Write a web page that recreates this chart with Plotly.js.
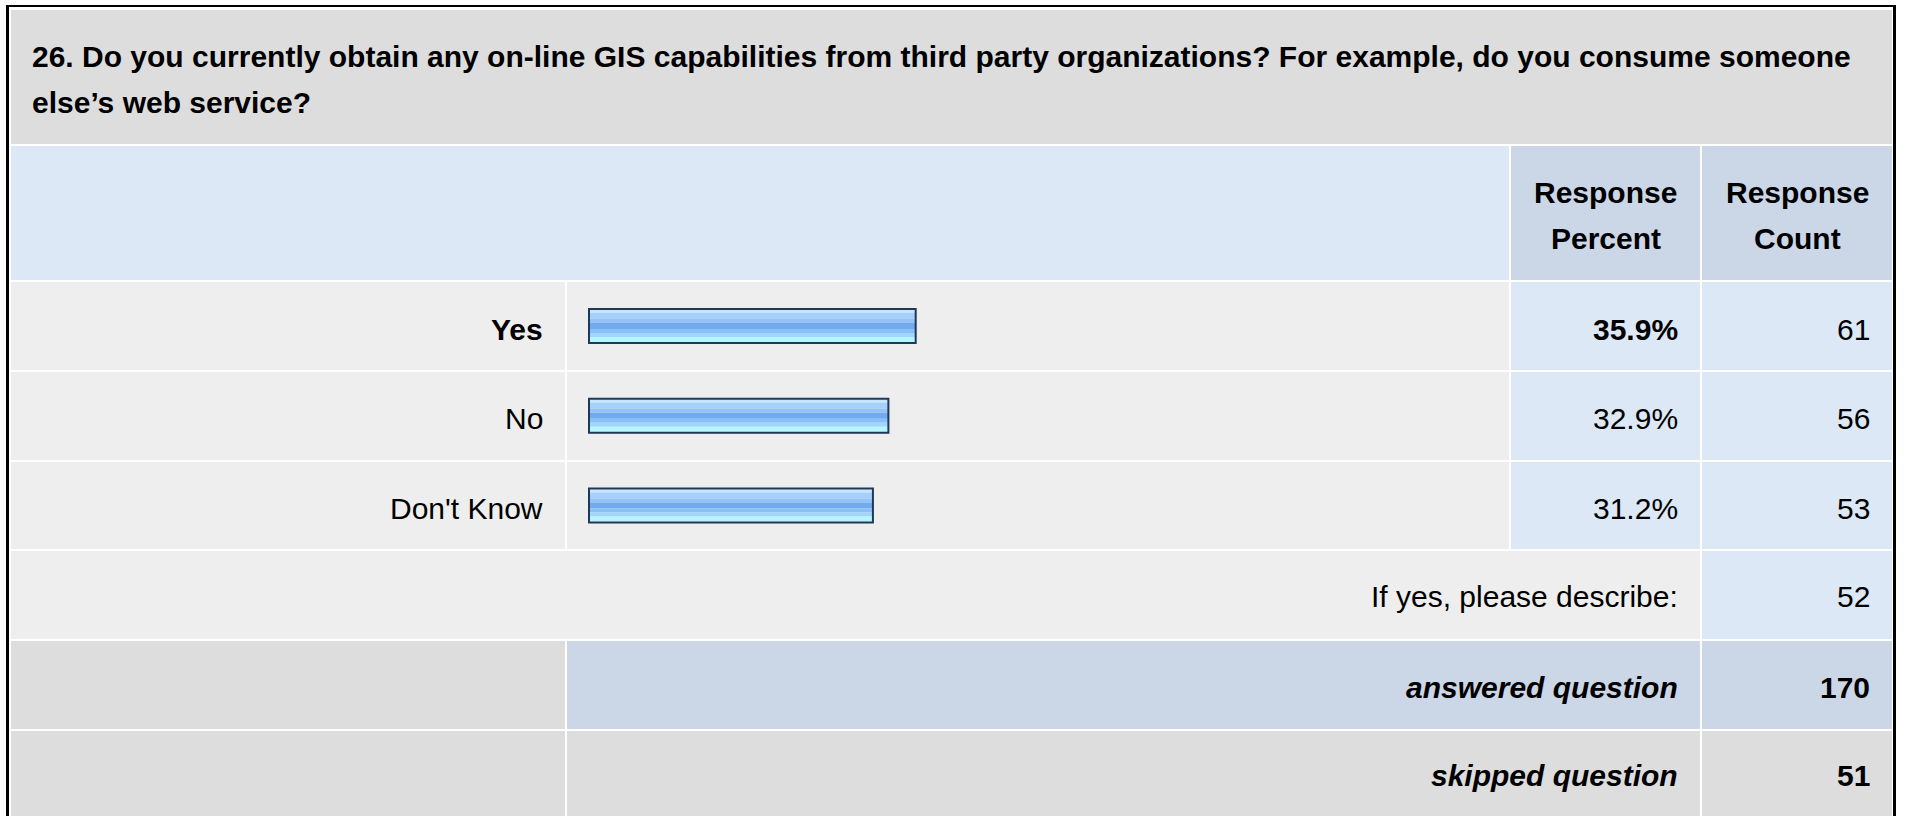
<!DOCTYPE html>
<html>
<head>
<meta charset="utf-8">
<script src="https://cdn.plot.ly/plotly-3.0.1.min.js"></script>
<style>
html,body{margin:0;padding:0;background:#ffffff;overflow:hidden}
#chart{width:1907px;height:816px}
</style>
</head>
<body>
<div id="chart"></div>
<script>
// ---------------- data ----------------
const questionLines = [
  "26. Do you currently obtain any on-line GIS capabilities from third party organizations? For example, do you consume someone",
  "else\u2019s web service?"
];
const percentHeader = ["Response", "Percent"];
const countHeader = ["Response", "Count"];
const categories = ["Yes", "No", "Don't Know"];
const percents = [35.9, 32.9, 31.2];
const counts = [61, 56, 53];
const otherLabel = "If yes, please describe:";
const otherCount = 52;
const summaryLabels = ["answered question", "skipped question"];
const summaryCounts = [170, 51];

// ---------------- layout geometry (pixels) ----------------
const W = 1907, H = 816;
const FONT = "Liberation Sans, Arial, Helvetica, sans-serif";
const FS = 30;
const px = x => x / W;
const py = y => 1 - y / H;

const colLabel = [11, 565], colBar = [567, 1509], colPct = [1511, 1700], colCnt = [1702, 1892];
const rowTops = [282, 372, 462, 551, 641, 731];
const rowBots = [370, 460, 549, 639, 729, 830];
const baselines = [339.5, 429, 518.5, 607, 697.5, 786];

const C_HEAD = "#dddddd", C_ROW = "#eeeeee", C_LBLUE = "#dce8f6", C_BGRAY = "#cbd7e6";

function rect(x0, x1, y0, y1, color) {
  return {type: "rect", xref: "paper", yref: "paper", x0: px(x0), x1: px(x1), y0: py(y1), y1: py(y0),
          fillcolor: color, line: {width: 0}, layer: "below"};
}
function ann(text, x, baseline, anchor, opts) {
  const size = (opts && opts.size) || FS;
  return {xref: "paper", yref: "paper", x: px(x), y: py(baseline - 0.3465 * size),
          xanchor: anchor, yanchor: "middle", text: text, showarrow: false, borderpad: 0,
          font: {family: FONT, size: size, color: "#000000"}};
}

const shapes = [];
// outer frame
shapes.push(rect(6, 1896, 5, 840, "#000000"));
shapes.push(rect(9, 1893, 7, 840, "#ffffff"));
// question header
shapes.push(rect(11, 1892, 10, 144, C_HEAD));
// column header row
shapes.push(rect(colLabel[0], colBar[1], 146, 280, C_LBLUE));
shapes.push(rect(colPct[0], colPct[1], 146, 280, C_BGRAY));
shapes.push(rect(colCnt[0], colCnt[1], 146, 280, C_BGRAY));
// answer rows
categories.forEach((c, i) => {
  shapes.push(rect(colLabel[0], colLabel[1], rowTops[i], rowBots[i], C_ROW));
  shapes.push(rect(colBar[0], colBar[1], rowTops[i], rowBots[i], C_ROW));
  shapes.push(rect(colPct[0], colPct[1], rowTops[i], rowBots[i], C_LBLUE));
  shapes.push(rect(colCnt[0], colCnt[1], rowTops[i], rowBots[i], C_LBLUE));
});
// other row
const ro = categories.length;
shapes.push(rect(colLabel[0], colPct[1], rowTops[ro], rowBots[ro], C_ROW));
shapes.push(rect(colCnt[0], colCnt[1], rowTops[ro], rowBots[ro], C_LBLUE));
// summary rows
const sumColors = [C_BGRAY, C_HEAD];
summaryLabels.forEach((s, k) => {
  const r = ro + 1 + k;
  shapes.push(rect(colLabel[0], colLabel[1], rowTops[r], rowBots[r], C_HEAD));
  shapes.push(rect(colBar[0], colPct[1], rowTops[r], rowBots[r], sumColors[k]));
  shapes.push(rect(colCnt[0], colCnt[1], rowTops[r], rowBots[r], sumColors[k]));
});

// ---------------- annotations ----------------
const annotations = [];
annotations.push(ann("<b>" + questionLines[0] + "</b>", 31, 66.7, "left"));
annotations.push(ann("<b>" + questionLines[1] + "</b>", 31, 112.7, "left"));
const pctMid = (colPct[0] + colPct[1]) / 2, cntMid = (colCnt[0] + colCnt[1]) / 2;
annotations.push(ann("<b>" + percentHeader[0] + "</b>", pctMid, 203.3, "center"));
annotations.push(ann("<b>" + percentHeader[1] + "</b>", pctMid, 249, "center"));
annotations.push(ann("<b>" + countHeader[0] + "</b>", cntMid, 203.3, "center"));
annotations.push(ann("<b>" + countHeader[1] + "</b>", cntMid, 249, "center"));

const topIdx = percents.indexOf(Math.max(...percents));
const PAD = 21;
categories.forEach((c, i) => {
  const b = t => (i === topIdx ? "<b>" + t + "</b>" : t);
  annotations.push(ann(b(c), colLabel[1] - PAD, baselines[i], "right"));
  annotations.push(ann(b(percents[i].toFixed(1) + "%"), colPct[1] - PAD, baselines[i], "right"));
  annotations.push(ann(String(counts[i]), colCnt[1] - PAD, baselines[i], "right"));
});
annotations.push(ann(otherLabel, colPct[1] - PAD, baselines[ro], "right"));
annotations.push(ann(String(otherCount), colCnt[1] - PAD, baselines[ro], "right"));
summaryLabels.forEach((s, k) => {
  const r = ro + 1 + k;
  annotations.push(ann("<b><i>" + s + "</i></b>", colPct[1] - PAD, baselines[r], "right"));
  annotations.push(ann("<b>" + summaryCounts[k] + "</b>", colCnt[1] - PAD, baselines[r], "right"));
});

// ---------------- bars (gradient bands + outline) ----------------
const PITCH = 89.75, C0 = 326;           // row pitch / first bar centre in px
const PXPCT = 9.1, X0 = 589;             // px per percent, 0% position
const barTopInner = -16;                 // inner top relative to centre (px)
const bands = [
  [0, 3, "#c6e5ff"], [3, 6, "#a6cffb"], [9, 4, "#93c3f8"], [13, 6, "#72aaee"],
  [19, 4, "#89c0f6"], [23, 4, "#a0d6fb"], [27, 5, "#b6f5ff"]
];
const traces = bands.map(b => ({
  type: "bar", orientation: "h", x: percents, y: categories, base: 0,
  offset: (barTopInner + b[0]) / PITCH, width: b[1] / PITCH,
  marker: {color: b[2], line: {width: 0}}, hoverinfo: "skip", showlegend: false
}));
traces.push({
  type: "bar", orientation: "h", x: percents, y: categories, base: 0,
  offset: -17 / PITCH, width: 34 / PITCH,
  marker: {color: "rgba(0,0,0,0)", line: {color: "#1e3858", width: 2}},
  hoverinfo: "skip", showlegend: false
});

const layout = {
  width: W, height: H,
  margin: {l: 0, r: 0, t: 0, b: 0, pad: 0},
  paper_bgcolor: "#ffffff", plot_bgcolor: "rgba(0,0,0,0)",
  barmode: "overlay", showlegend: false,
  xaxis: {domain: [px(colBar[0]), px(colBar[1])],
          range: [(colBar[0] - X0) / PXPCT, (colBar[1] - X0) / PXPCT],
          visible: false, fixedrange: true},
  yaxis: {type: "category", categoryorder: "array", categoryarray: categories,
          domain: [0, 1], range: [(H - C0) / PITCH, -C0 / PITCH],
          visible: false, fixedrange: true},
  shapes: shapes,
  annotations: annotations
};

Plotly.newPlot("chart", traces, layout, {staticPlot: true, displayModeBar: false});
</script>
</body>
</html>
